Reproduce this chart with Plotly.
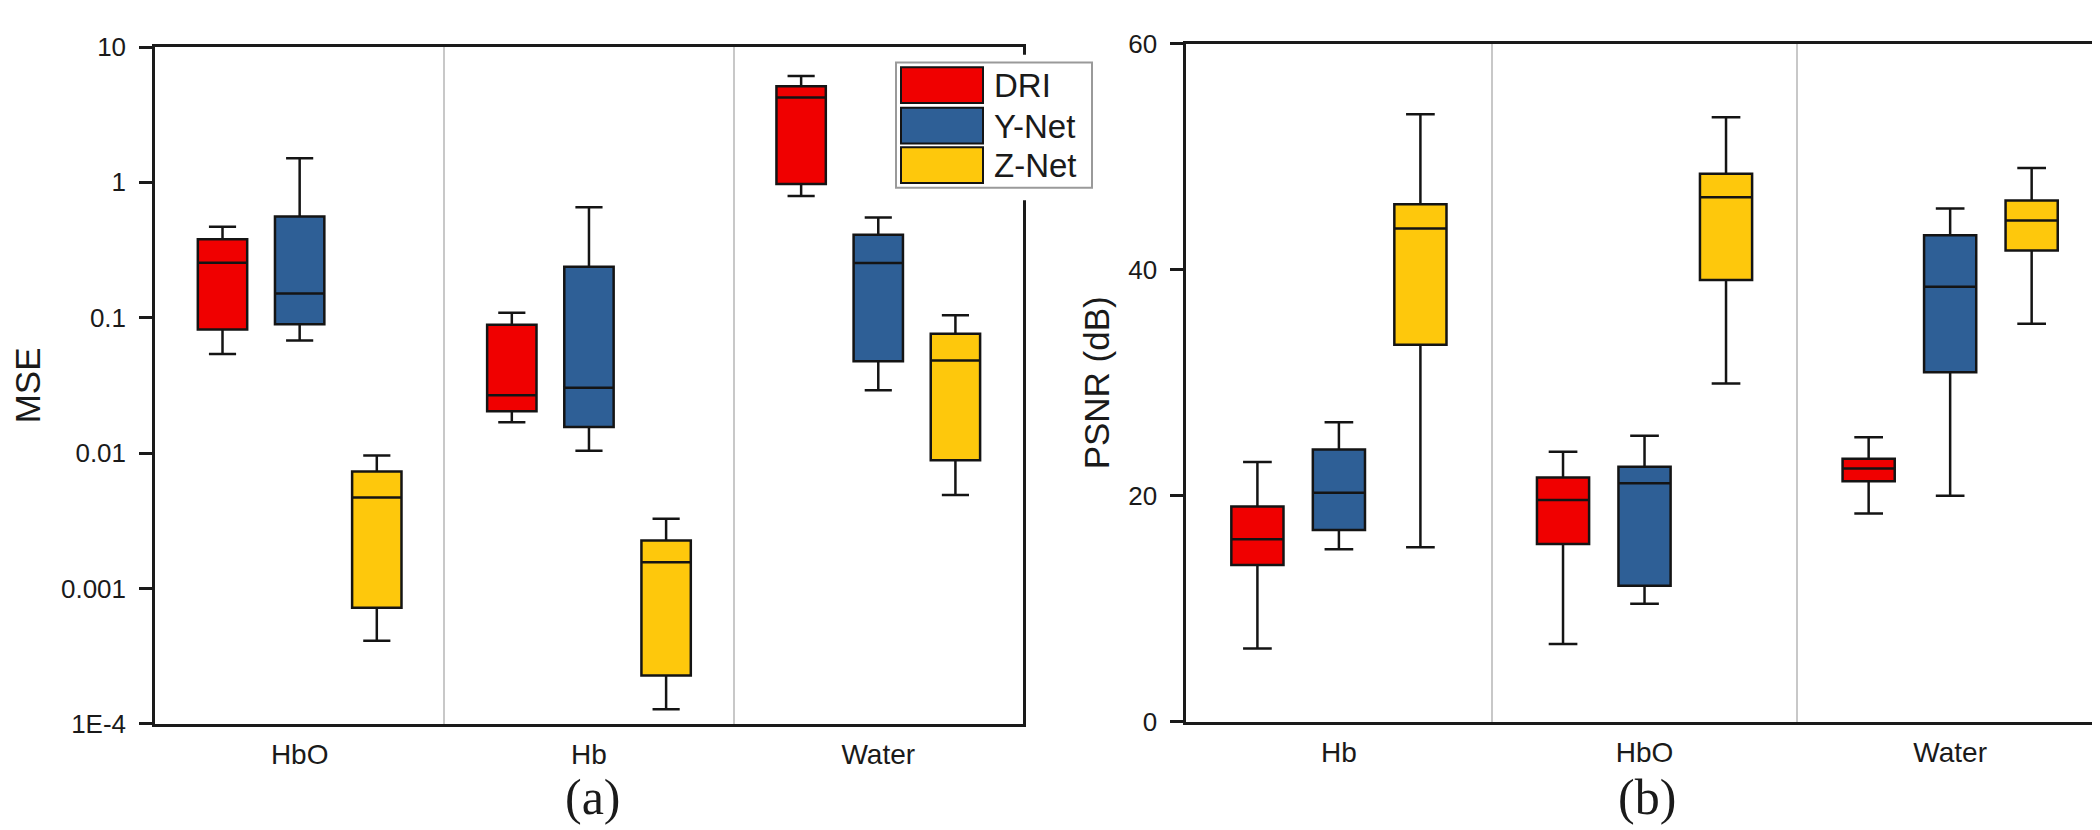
import plotly.graph_objects as go

# ---------------- data ----------------
series = ["DRI", "Y-Net", "Z-Net"]
series_colors = ["#f00000", "#2e5f96", "#fec80c"]

# (a) MSE, log scale; each row = [lower whisker, q1, median, q3, upper whisker]
mse_categories = ["HbO", "Hb", "Water"]
mse_dri = [[0.054, 0.082, 0.255, 0.38, 0.47],
           [0.0169, 0.0204, 0.0268, 0.0887, 0.109],
           [0.794, 0.973, 4.23, 5.13, 6.1]]
mse_ynet = [[0.068, 0.0896, 0.151, 0.56, 1.51],
            [0.0104, 0.0156, 0.0304, 0.238, 0.656],
            [0.0291, 0.0477, 0.254, 0.411, 0.55]]
mse_znet = [[0.00041, 0.00072, 0.0047, 0.0073, 0.0096],
            [0.000128, 0.000227, 0.00156, 0.00226, 0.00327],
            [0.0049, 0.00887, 0.0482, 0.076, 0.1045]]
mse_tickvals = [1e-4, 1e-3, 1e-2, 1e-1, 1, 10]
mse_ticktext = ["1E-4", "0.001", "0.01", "0.1", "1", "10"]

# (b) PSNR (dB)
psnr_categories = ["Hb", "HbO", "Water"]
psnr_dri = [[6.49, 13.88, 16.16, 19.06, 23.0],
            [6.88, 15.73, 19.63, 21.62, 23.9],
            [18.43, 21.28, 22.42, 23.27, 25.18]]
psnr_ynet = [[15.28, 16.98, 20.28, 24.1, 26.5],
             [10.44, 12.03, 21.1, 22.56, 25.32],
             [20.0, 30.94, 38.51, 43.06, 45.43]]
psnr_znet = [[15.45, 33.37, 43.66, 45.8, 53.77],
             [29.94, 39.09, 46.43, 48.51, 53.5],
             [35.23, 41.71, 44.37, 46.14, 49.0]]
psnr_tickvals = [0, 20, 40, 60]

# ---------------- figure ----------------
fig = go.Figure()

def add_boxes(cats, rows, name, color, xa, ya):
    fig.add_trace(go.Box(
        x=cats,
        lowerfence=[r[0] for r in rows],
        q1=[r[1] for r in rows],
        median=[r[2] for r in rows],
        q3=[r[3] for r in rows],
        upperfence=[r[4] for r in rows],
        name=name,
        offsetgroup=name,
        fillcolor=color,
        line=dict(color="#141414", width=2.5),
        whiskerwidth=0.55,
        boxpoints=False,
        showlegend=False,
        hoverinfo="skip",
        xaxis=xa, yaxis=ya,
    ))

for name, color, rows in zip(series, series_colors, [mse_dri, mse_ynet, mse_znet]):
    add_boxes(mse_categories, rows, name, color, "x", "y")
for name, color, rows in zip(series, series_colors, [psnr_dri, psnr_ynet, psnr_znet]):
    add_boxes(psnr_categories, rows, name, color, "x2", "y2")

sans = "Liberation Sans, Arial, sans-serif"
ytick_font = dict(family=sans, size=26, color="#1a1a1a")
xtick_font = dict(family=sans, size=28, color="#1a1a1a")
title_font = dict(family=sans, size=35, color="#1a1a1a")

xcommon = dict(
    type="category", tickson="boundaries", showgrid=True, gridcolor="#c8c8c8",
    gridwidth=1.5, ticks="", showline=True, linecolor="#1a1a1a", linewidth=2.5,
    mirror=True, tickfont=xtick_font, zeroline=False, fixedrange=True,
    ticklabelstandoff=4,
)
ycommon = dict(
    ticks="outside", ticklen=13, tickwidth=2.5, tickcolor="#1a1a1a",
    showline=True, linecolor="#1a1a1a", linewidth=2.5, mirror=True,
    showgrid=False, zeroline=False, tickfont=ytick_font, ticklabelstandoff=8,
)

fig.update_layout(
    width=2100, height=830,
    margin=dict(l=0, r=0, t=0, b=0),
    paper_bgcolor="white", plot_bgcolor="white",
    boxmode="group", boxgap=0.2, boxgroupgap=0.36,
    showlegend=False,
    xaxis=dict(domain=[0.07, 0.4833], anchor="y", **xcommon),
    yaxis=dict(
        domain=[0.124, 0.970], anchor="x", type="log", range=[-4, 1],
        tickvals=mse_tickvals, ticktext=mse_ticktext,
        title=dict(text="MSE", font=title_font, standoff=16),
        **ycommon,
    ),
    xaxis2=dict(domain=[0.561, 0.9976], anchor="y2", **xcommon),
    yaxis2=dict(
        domain=[0.1265, 0.974], anchor="x2", range=[0, 60],
        tickvals=psnr_tickvals,
        title=dict(text="PSNR (dB)", font=title_font, standoff=8),
        **ycommon,
    ),
)

# panel labels
serif = dict(family="Liberation Serif, Times New Roman, serif", size=50, color="#1a1a1a")
fig.add_annotation(text="(a)", x=585 / 2100, y=1 - 803 / 830, xref="paper", yref="paper",
                   showarrow=False, font=serif, xanchor="center", yanchor="middle")
fig.add_annotation(text="(b)", x=1639 / 2100, y=1 - 803 / 830, xref="paper", yref="paper",
                   showarrow=False, font=serif, xanchor="center", yanchor="middle")

# legend drawn as a boxed key in the upper-right corner of panel (a)
W, H = 2100.0, 830.0
def px(x):
    return x / W
def py(y):
    return 1 - y / H

shapes = []
# white backing (hides the frame under the key)
shapes.append(dict(type="rect", xref="paper", yref="paper", layer="above",
                   x0=px(882), x1=px(1092), y0=py(184), y1=py(33),
                   fillcolor="white", line=dict(width=0)))
# key border
shapes.append(dict(type="rect", xref="paper", yref="paper", layer="above",
                   x0=px(888), x1=px(1084), y0=py(171), y1=py(41),
                   fillcolor="white", line=dict(color="#9a9a9a", width=2)))
row_tops = [46, 88, 129]
for i, (name, color) in enumerate(zip(series, series_colors)):
    t = row_tops[i]
    shapes.append(dict(type="rect", xref="paper", yref="paper", layer="above",
                       x0=px(893), x1=px(975), y0=py(t + 37), y1=py(t),
                       fillcolor=color, line=dict(color="#141414", width=2)))
    fig.add_annotation(text=name, x=px(984), y=py(t + 19), xref="paper", yref="paper",
                       showarrow=False, xanchor="left", yanchor="middle",
                       font=dict(family=sans, size=33, color="#1a1a1a"))
fig.update_layout(shapes=shapes)

fig.write_html("out.html")
